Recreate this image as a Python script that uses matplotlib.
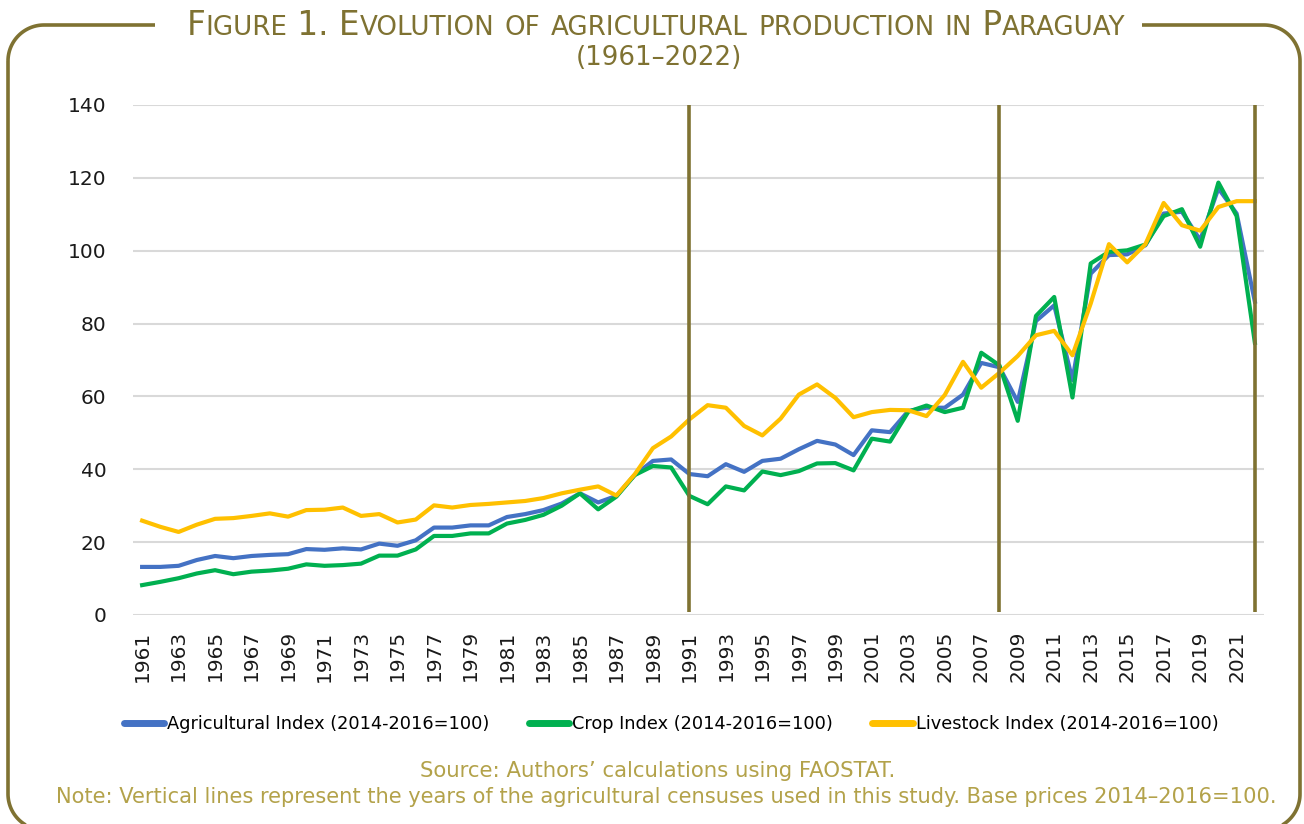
import matplotlib
matplotlib.use("Agg")
import matplotlib.pyplot as plt
from matplotlib.lines import Line2D
import numpy as np

years = list(range(1961, 2023))

agri_index = [13.2, 13.2, 13.5, 15.1, 16.2, 15.6, 16.2, 16.5, 16.7, 18.1,
              17.9, 18.3, 18.0, 19.6, 19.0, 20.5, 24.0, 24.0, 24.6, 24.6,
              26.9, 27.7, 28.8, 30.6, 33.4, 30.9, 32.7, 38.4, 42.3, 42.7,
              38.7, 38.1, 41.4, 39.3, 42.3, 42.9, 45.5, 47.8, 46.8, 43.9,
              50.7, 50.2, 56.0, 56.9, 56.9, 60.5, 69.2, 68.0, 58.5, 80.7,
              85.0, 64.5, 93.7, 98.8, 99.0, 101.5, 110.2, 110.7, 102.9, 117.1,
              110.2, 86.0]

crop_index = [8.2, 9.1, 10.1, 11.4, 12.3, 11.2, 11.9, 12.2, 12.7, 13.9,
              13.5, 13.7, 14.1, 16.3, 16.3, 18.0, 21.7, 21.7, 22.4, 22.4,
              25.1, 26.1, 27.5, 30.0, 33.4, 29.0, 32.5, 38.4, 40.9, 40.5,
              32.7, 30.4, 35.3, 34.2, 39.4, 38.4, 39.5, 41.6, 41.7, 39.7,
              48.4, 47.6, 55.8, 57.5, 55.7, 56.9, 72.0, 68.5, 53.3, 82.1,
              87.3, 59.7, 96.5, 99.7, 100.1, 101.7, 109.5, 111.4, 101.1, 118.7,
              109.5, 74.7]

livestock_index = [25.9, 24.2, 22.8, 24.8, 26.4, 26.6, 27.2, 27.9, 27.0, 28.8,
                   28.9, 29.5, 27.2, 27.7, 25.4, 26.2, 30.1, 29.5, 30.2, 30.5,
                   30.9, 31.3, 32.1, 33.4, 34.4, 35.3, 32.8, 38.6, 45.8, 49.0,
                   53.7, 57.6, 56.9, 51.9, 49.3, 53.9, 60.5, 63.3, 59.6, 54.3,
                   55.7, 56.3, 56.2, 54.6, 60.4, 69.5, 62.4, 66.5, 71.1, 76.8,
                   78.0, 71.3, 85.5, 101.8, 96.8, 101.8, 113.1, 107.0, 105.5, 112.0,
                   113.6, 113.6]

census_years = [1991, 2008, 2022]
series_labels = ["Agricultural Index (2014-2016=100)",
                 "Crop Index (2014-2016=100)",
                 "Livestock Index (2014-2016=100)"]
series_colors = ["#4472C4", "#00B050", "#FFC000"]
xtick_years = list(range(1961, 2023, 2))
yticks = [0, 20, 40, 60, 80, 100, 120, 140]

OLIVE = "#7f7232"
GOLD = "#b3a24a"

W, H = 1304, 824
fig = plt.figure(figsize=(W / 100, H / 100), dpi=100)
fig.patch.set_facecolor("white")


def arc(cx, cy, r, a0, a1, n=30):
    t = np.linspace(np.radians(a0), np.radians(a1), n)
    return cx + r * np.cos(t), cy + r * np.sin(t)


# rounded frame with a gap for the title
r = 36
L, R, T, B = 8, 1300, 25, 830
xs1, ys1 = arc(L + r, T + r, r, 180, 270)
path_x = list(xs1) + [155]
path_y = list(ys1) + [T]
xs2, ys2 = arc(R - r, T + r, r, 270, 360)
xs3, ys3 = arc(R - r, B - r, r, 0, 90)
path2_x = [1142] + list(xs2) + list(xs3)
path2_y = [T] + list(ys2) + list(ys3)
xs4, ys4 = arc(L + r, B - r, r, 90, 180)
path3_x = list(xs4) + [L]
path3_y = list(ys4) + [T + r]
for px, py in [(path_x, path_y), (path2_x, path2_y), (path3_x, path3_y)]:
    fig.add_artist(Line2D(np.array(px) / W, 1 - np.array(py) / H,
                          transform=fig.transFigure, color=OLIVE, lw=2.6,
                          solid_capstyle="butt"))

renderer = fig.canvas.get_renderer()


def small_caps(text, y_px, size, color, center_x):
    runs = []
    for ch in text:
        big = not ch.islower()
        if runs and runs[-1][1] == big:
            runs[-1][0] += ch
        else:
            runs.append([ch, big])
    arts = []
    for s, big in runs:
        fs = size if big else size * 0.8
        t = fig.text(0, 1 - y_px / H, s.upper(), fontsize=fs, color=color,
                     family="DejaVu Sans", va="baseline", ha="left")
        arts.append(t)
    widths = [t.get_window_extent(renderer).width for t in arts]
    x0 = center_x - sum(widths) / 2
    for t, w in zip(arts, widths):
        t.set_x(x0 / W)
        x0 += w


small_caps("Figure 1. Evolution of agricultural production in Paraguay", 35, 23.5,
           OLIVE, center_x=656)
fig.text(659 / W, 1 - 58 / H, "(1961–2022)", fontsize=18.8, color=OLIVE,
         family="DejaVu Sans", ha="center", va="center")

# axes
left, right, top, bottom = 133, 1264, 105, 615
ax = fig.add_axes([left / W, 1 - bottom / H, (right - left) / W, (bottom - top) / H])
for vals, lab, col in zip([agri_index, crop_index, livestock_index],
                          series_labels, series_colors):
    ax.plot(years, vals, color=col, lw=3.0, label=lab, zorder=3)
for cy in census_years:
    ax.vlines(cy, 0.8, 140, color=OLIVE, lw=2.6, zorder=5)

ax.set_xlim(1960.5, 2022.5)
ax.set_ylim(0, 140)
ax.set_yticks(yticks)
ax.set_xticks(xtick_years)
ax.set_xticklabels([str(y) for y in xtick_years], rotation=90)
ax.grid(axis="y", color="#d9d9d9", lw=1.5, zorder=0)
ax.grid(axis="x", visible=False)
for s in ax.spines.values():
    s.set_visible(False)
ax.tick_params(axis="both", length=0, labelsize=14.5, labelcolor="#1a1a1a")
ax.tick_params(axis="y", pad=19)
ax.tick_params(axis="x", pad=11)
ax.set_axisbelow(True)

handles = [Line2D([0], [0], color=c, lw=5, solid_capstyle="round") for c in series_colors]
fig.legend(handles, series_labels, loc="center", bbox_to_anchor=(671 / W, 1 - 724 / H),
           ncol=3, frameon=False, fontsize=12.8, handlelength=2.3, handletextpad=0.15,
           columnspacing=2.2)

fig.text(658 / W, 1 - 771 / H, "Source: Authors’ calculations using FAOSTAT.",
         fontsize=15.3, color=GOLD, ha="center", va="center")
fig.text(666 / W, 1 - 797 / H,
         "Note: Vertical lines represent the years of the agricultural censuses used in this study. Base prices 2014–2016=100.",
         fontsize=15.1, color=GOLD, ha="center", va="center")

fig.savefig("out.png", dpi=100)
